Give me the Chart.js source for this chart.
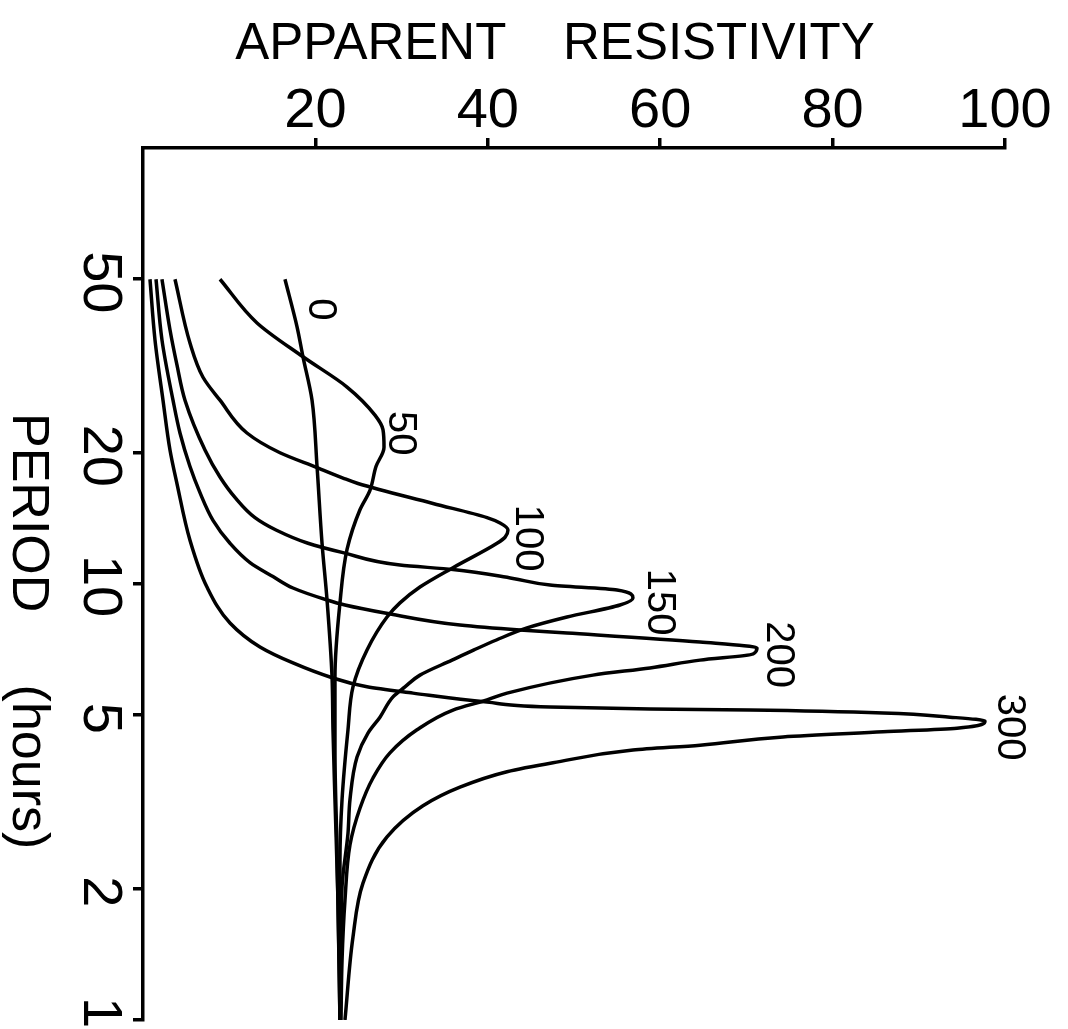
<!DOCTYPE html>
<html>
<head>
<meta charset="utf-8">
<script src="https://cdn.jsdelivr.net/npm/chart.js@4.4.1/dist/chart.umd.min.js"></script>
<style>
  html, body { margin: 0; padding: 0; background: #fff; overflow: hidden; }
  canvas { display: block; }
</style>
</head>
<body>
<canvas id="chart" width="1068" height="1029"></canvas>
<script>
// Apparent resistivity against period, one curve per depth.
const depthLabels = ['0', '50', '100', '150', '200', '300'];

const period0 = [1, 1.88, 3.2, 4.63, 6.12, 9.19, 12.4, 18.6, 26.4, 33.2, 38.9, 50];
const rho0    = [22.85, 22.62, 22.27, 22.04, 21.93, 21.35, 20.77, 20.19, 19.61, 18.56, 17.87, 16.47];

const period50 = [1, 2.45, 4.16, 6.12, 9.05, 12.0, 14.8, 16.4, 18.6, 20.6, 22.6, 24.4, 28.3, 33.2, 39.7, 50];
const rho50    = [22.85, 22.51, 22.27, 22.27, 22.85, 23.67, 25.17, 26.33, 27.03, 27.96, 27.84, 26.91, 23.67, 18.56, 13.23, 8.93];

const period100 = [1, 2.33, 3.2, 4.63, 5.81, 7.06, 8.40, 9.05, 9.84, 10.9, 12.4, 12.8, 13.3, 13.8, 14.2, 15.3, 17.0, 17.5, 18.5, 20.0, 22.2, 26.4, 29.8, 35.7, 50];
const rho100    = [22.85, 22.85, 23.09, 23.78, 24.36, 25.99, 28.31, 29.81, 32.13, 35.96, 41.07, 42.0, 42.34, 41.42, 39.91, 33.64, 24.94, 23.2, 20.19, 15.89, 12.06, 8.93, 6.96, 5.45, 3.71];

const period150 = [1, 1.45, 2.02, 2.68, 3.2, 4.01, 4.55, 4.95, 5.51, 5.81, 6.18, 6.69, 7.06, 7.44, 7.93, 8.40, 8.95, 9.29, 9.69, 9.95, 10.3, 10.8, 11.05, 11.8, 12.4, 13.3, 14.2, 15.8, 17.6, 20.3, 26.4, 31.8, 38.3, 50];
const rho150    = [22.85, 22.97, 23.09, 23.78, 24.01, 24.83, 26.10, 27.49, 29.00, 30.39, 32.13, 35.85, 38.4, 41.0, 44.55, 49.19, 55.34, 56.84, 54.99, 47.22, 42.92, 35.96, 29.81, 23.2, 19.14, 15.43, 12.99, 10.67, 8.93, 7.19, 4.87, 3.94, 3.13, 2.20];

const period200 = [1, 1.37, 1.88, 2.52, 3.06, 3.59, 4.10, 4.63, 5.14, 5.42, 5.62, 6.18, 6.42, 6.69, 6.91, 7.13, 7.36, 7.72, 7.84, 8.05, 8.58, 8.95, 9.19, 9.79, 10.4, 11.2, 12.4, 14.0, 16.2, 18.6, 22.2, 26.4, 36.3, 50];
const rho200    = [22.97, 23.09, 23.43, 24.01, 25.17, 26.68, 28.65, 31.79, 35.96, 39.91, 42.23, 52.20, 58.82, 64.62, 70.77, 71.23, 64.62, 49.19, 43.74, 36.77, 28.07, 23.43, 21.35, 17.40, 15.08, 12.41, 10.09, 8.12, 6.61, 5.45, 4.29, 3.48, 2.20, 1.51];

const period300 = [1, 1.55, 2.06, 2.63, 3.10, 3.42, 3.71, 3.89, 4.16, 4.27, 4.46, 4.58, 4.67, 4.85, 4.95, 5.06, 5.14, 5.17, 5.22, 5.36, 5.62, 5.81, 6.12, 6.59, 7.17, 8.14, 9.84, 12.6, 17.0, 20.3, 26.4, 36.3, 50];
const rho300    = [23.43, 24.36, 25.52, 28.31, 32.48, 36.77, 42.23, 47.56, 56.84, 64.62, 74.25, 85.85, 94.43, 97.68, 93.62, 85.85, 70.42, 58.82, 47.22, 39.91, 31.32, 25.99, 21.69, 17.40, 13.57, 10.09, 7.42, 5.45, 3.94, 3.13, 2.32, 1.39, 0.81];

const resistivityTicks = [20, 40, 60, 80, 100];
const periodTicks = [1, 2, 5, 10, 20, 50];

const xTitle = 'APPARENT    RESISTIVITY';
const yTitle = 'PERIOD     (hours)';

// ---- presentation ----
const FONT = '"Liberation Sans", Arial, sans-serif';
const INK = '#000';

const periods = [period0, period50, period100, period150, period200, period300];
const rhos = [rho0, rho50, rho100, rho150, rho200, rho300];

// where each curve's depth label sits, relative to a point of the curve (pixels)
const labelPlacement = [
  { at: 'end',  dx: 38, dy: 30 },
  { at: 'peak', dx: 19, dy: -14 },
  { at: 'peak', dx: 22, dy: 9 },
  { at: 'peak', dx: 29, dy: 5 },
  { at: 'peak', dx: 24, dy: 7 },
  { at: 'peak', dx: 27, dy: 6 }
];

const datasets = depthLabels.map((name, k) => ({
  label: name,
  data: periods[k].map((p, i) => ({ x: rhos[k][i], y: p })),
  borderColor: INK,
  borderWidth: 3.5,
  pointRadius: 0,
  fill: false,
  cubicInterpolationMode: 'monotone'
}));

// draws text turned a quarter turn clockwise; the ink is centred on cy along
// the text (kept inside the canvas), and the capital height is centred on cx
function drawRotated(ctx, text, cx, cy, size) {
  const cap = size * 0.716;
  ctx.save();
  ctx.font = size + 'px ' + FONT;
  ctx.textAlign = 'left';
  ctx.textBaseline = 'alphabetic';
  const m = ctx.measureText(text);
  const inkLen = m.actualBoundingBoxRight + m.actualBoundingBoxLeft;
  const inkMid = (m.actualBoundingBoxRight - m.actualBoundingBoxLeft) / 2;
  const y = Math.min(cy, ctx.canvas.height - inkLen / 2 - 3);
  ctx.translate(cx - cap / 2, y);
  ctx.rotate(Math.PI / 2);
  ctx.fillText(text, -inkMid, 0);
  ctx.restore();
}

const textPlugin = {
  id: 'axisText',
  afterDraw(chart) {
    const { ctx } = chart;
    const xs = chart.scales.x;
    const ys = chart.scales.y;
    ctx.save();
    ctx.fillStyle = INK;

    // top axis title and tick labels
    ctx.textAlign = 'center';
    ctx.textBaseline = 'alphabetic';
    ctx.font = '51px ' + FONT;
    ctx.fillText(xTitle, (xs.left + xs.right) / 2 - 19, 59);
    ctx.font = '56px ' + FONT;
    resistivityTicks.forEach(v => ctx.fillText(String(v), xs.getPixelForValue(v), 127));

    // left axis tick labels and title, turned clockwise
    periodTicks.forEach(v => drawRotated(ctx, String(v), 104, ys.getPixelForValue(v) + 3, 56));
    drawRotated(ctx, yTitle, 32, 632, 52);

    // depth labels beside each curve
    chart.data.datasets.forEach((ds, k) => {
      const pts = ds.data;
      let idx = pts.length - 1;
      if (labelPlacement[k].at === 'peak') {
        idx = 0;
        pts.forEach((p, i) => { if (p.x > pts[idx].x) idx = i; });
      }
      const px = xs.getPixelForValue(pts[idx].x) + labelPlacement[k].dx;
      const py = ys.getPixelForValue(pts[idx].y) + labelPlacement[k].dy;
      drawRotated(ctx, ds.label, px, py, 40);
    });
    ctx.restore();
  }
};

new Chart(document.getElementById('chart').getContext('2d'), {
  type: 'line',
  data: { datasets },
  options: {
    responsive: false,
    animation: false,
    indexAxis: 'y',
    layout: { padding: { left: 133, top: 138, right: 63, bottom: 9 } },
    plugins: { legend: { display: false }, tooltip: { enabled: false } },
    scales: {
      x: {
        type: 'linear',
        position: 'top',
        min: 0,
        max: 100,
        afterBuildTicks: sc => { sc.ticks = resistivityTicks.map(v => ({ value: v })); },
        ticks: { display: false },
        grid: { display: true, drawOnChartArea: false, drawTicks: true, tickLength: 10, color: INK, lineWidth: 3.5 },
        border: { display: true, color: INK, width: 3.5 }
      },
      y: {
        type: 'logarithmic',
        position: 'left',
        min: 1,
        max: 100,
        afterBuildTicks: sc => { sc.ticks = periodTicks.map(v => ({ value: v })); },
        ticks: { display: false },
        grid: { display: true, drawOnChartArea: false, drawTicks: true, tickLength: 10, color: INK, lineWidth: 3.5 },
        border: { display: true, color: INK, width: 3.5 }
      }
    }
  },
  plugins: [textPlugin]
});
</script>
</body>
</html>
